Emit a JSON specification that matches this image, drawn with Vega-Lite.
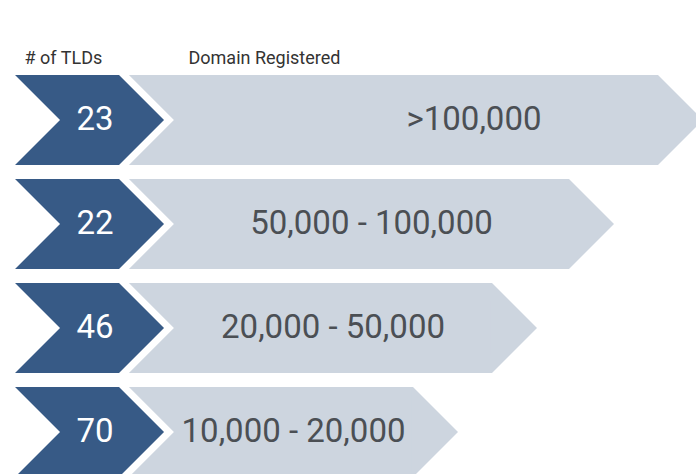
{
  "$schema": "https://vega.github.io/schema/vega-lite/v6.json",
  "width": 696,
  "height": 406,
  "padding": {"top": 68, "left": 0, "right": 0, "bottom": 0},
  "autosize": {"type": "none"},
  "background": "white",
  "config": {"view": {"stroke": null}},
  "data": {
    "values": [
      {"rank": 1, "tlds": 23, "range": ">100,000", "barEnd": 94.54},
      {"rank": 2, "tlds": 22, "range": "50,000 - 100,000", "barEnd": 81.75},
      {"rank": 3, "tlds": 46, "range": "20,000 - 50,000", "barEnd": 70.69},
      {"rank": 4, "tlds": 70, "range": "10,000 - 20,000", "barEnd": 59.34}
    ]
  },
  "encoding": {
    "y": {
      "field": "range",
      "type": "nominal",
      "sort": null,
      "axis": null,
      "scale": {"range": [0, 416], "paddingInner": 0.1346, "paddingOuter": 0.0673}
    }
  },
  "layer": [
    {
      "mark": {"type": "bar", "color": "#cdd5df"},
      "encoding": {
        "x": {
          "field": "barEnd",
          "type": "quantitative",
          "scale": {"domain": [0, 100], "nice": false, "zero": false},
          "axis": {
            "orient": "top",
            "values": [3.45, 27.01],
            "labelExpr": "datum.value < 10 ? '# of TLDs' : 'Domain Registered'",
            "domain": false,
            "ticks": false,
            "tickSize": 0,
            "grid": false,
            "title": null,
            "labelAlign": "left",
            "labelBaseline": "alphabetic",
            "labelPadding": 5,
            "labelFlush": false,
            "labelOverlap": false,
            "labelFont": "Roboto",
            "labelFontSize": 18,
            "labelColor": "#333333"
          }
        },
        "x2": {"datum": 18.53}
      }
    },
    {
      "mark": {"type": "point", "shape": "M-0.03,-1L0,-1L1,0L0,1L-0.03,1Z", "size": 8100, "filled": true, "color": "#cdd5df", "opacity": 1, "strokeWidth": 0},
      "encoding": {
        "x": {"field": "barEnd", "type": "quantitative"}
      }
    },
    {
      "mark": {"type": "point", "shape": "M-2.311,-1L0,-1L1,0L0,1L-2.311,1L-1.311,0Z", "size": 8100, "filled": true, "fill": "white", "stroke": "white", "strokeWidth": 14, "opacity": 1},
      "encoding": {
        "x": {"datum": 17.10, "type": "quantitative"}
      }
    },
    {
      "mark": {"type": "point", "shape": "M-2.311,-1L0,-1L1,0L0,1L-2.311,1L-1.311,0Z", "size": 8100, "filled": true, "color": "#375a86", "opacity": 1, "strokeWidth": 0},
      "encoding": {
        "x": {"datum": 17.10, "type": "quantitative"}
      }
    },
    {
      "mark": {"type": "text", "font": "Roboto", "fontSize": 33, "color": "white", "align": "center", "baseline": "middle"},
      "encoding": {
        "x": {"datum": 13.65, "type": "quantitative"},
        "text": {"field": "tlds", "type": "quantitative"}
      }
    },
    {
      "transform": [
        {"filter": "datum.rank > 1"},
        {"calculate": "(25 + datum.barEnd) / 2", "as": "labelMid"}
      ],
      "mark": {"type": "text", "font": "Roboto", "fontSize": 33, "color": "#4b4f54", "align": "center", "baseline": "middle"},
      "encoding": {
        "x": {"field": "labelMid", "type": "quantitative"},
        "text": {"field": "range", "type": "nominal"}
      }
    },
    {
      "transform": [
        {"filter": "datum.rank == 1"},
        {"calculate": "(25 + datum.barEnd) / 2", "as": "labelMid"}
      ],
      "mark": {"type": "text", "font": "Roboto", "fontSize": 33, "color": "#4b4f54", "align": "center", "baseline": "middle", "dx": 58},
      "encoding": {
        "x": {"field": "labelMid", "type": "quantitative"},
        "text": {"field": "range", "type": "nominal"}
      }
    }
  ]
}
